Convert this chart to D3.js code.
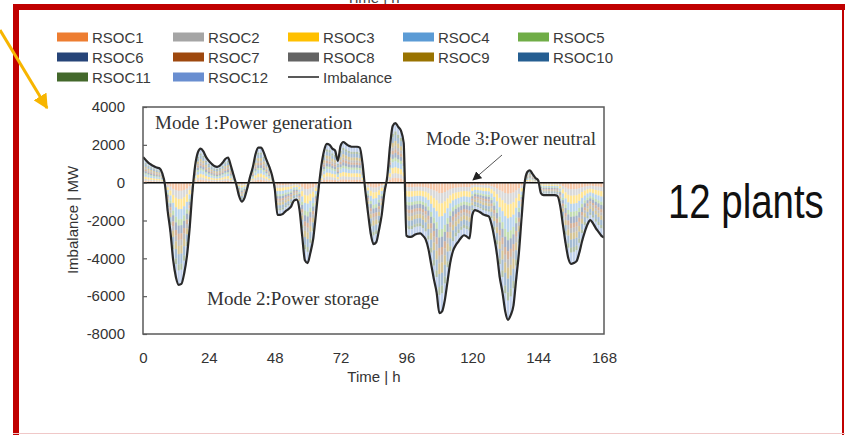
<!DOCTYPE html>
<html>
<head>
<meta charset="utf-8">
<script src="https://cdn.jsdelivr.net/npm/d3@7"></script>
<style>
  html, body { margin: 0; padding: 0; background: #fff; }
  svg { display: block; }
</style>
</head>
<body>
<svg id="chart" width="845" height="435"></svg>
<script>
// ---------------- DATA ----------------
const hours = d3.range(0, 169); // hour index 0..168
// Imbalance (MW), read hour by hour from the picture
const imbalance = [
  1350, 1200, 1050, 950, 870, 800, 760, 500, -100, -1500,
  -2600, -4100, -5000, -5400, -5350, -4800, -3900, -2400, -500, 900,
  1600, 1800, 1650, 1350, 1150, 1000, 880, 840, 900, 1050,
  1250, 1330, 900, 400, -100, -700, -1000, -800, -300, 300,
  800, 1500, 1850, 1850, 1600, 1200, 850, 400, -300, -1700,
  -1700, -1650, -1500, -1400, -1250, -950, -900, -1400, -2800, -4100,
  -4250, -3700, -3000, -1700, -300, 900, 1700, 2050, 2000, 1800,
  1700, 1150, 1950, 2150, 2050, 1950, 1900, 1900, 1900, 1850,
  1000, -400, -1600, -2700, -3250, -3150, -2500, -1700, -500, 300,
  1900, 3000, 3150, 2950, 2750, 2100, -2800, -2870, -2850, -2750,
  -2700, -2680, -2800, -3000, -3500, -4300, -5100, -5800, -6900, -6800,
  -6200, -5200, -4200, -3600, -3300, -3100, -2900, -2780, -2850, -2950,
  -1700, -1450, -1500, -1580, -1680, -1730, -1780, -2200, -2900, -3800,
  -5000, -5800, -6800, -7250, -7000, -6500, -5100, -3700, -1800, -100,
  550, 650, 450, 250, 130, -550, -660, -660, -660, -660,
  -660, -700, -1200, -2200, -3200, -4000, -4300, -4250, -4150, -3700,
  -3100, -2600, -2200, -1980, -2150, -2400, -2600, -2800, -2900
];
const plants = ["RSOC1","RSOC2","RSOC3","RSOC4","RSOC5","RSOC6",
                "RSOC7","RSOC8","RSOC9","RSOC10","RSOC11","RSOC12"];
const plantColors = ["#ED7D31","#A5A5A5","#FFC000","#5B9BD5","#70AD47","#264478",
                     "#9E480E","#636363","#997300","#255E91","#43682B","#698ED0"];
// approximate share of each plant in the stacked columns (read from colour bands)
const plantShare = [0.08, 0.08, 0.10, 0.10, 0.06, 0.08, 0.06, 0.06, 0.08, 0.10, 0.06, 0.14];
const yTicks = [4000, 2000, 0, -2000, -4000, -6000, -8000];
const xTicks = [0, 24, 48, 72, 96, 120, 144, 168];

// ---------------- LAYOUT ----------------
const svg = d3.select("#chart");
const W = 845, H = 435;
const plot = { left: 143, right: 604, top: 107, bottom: 334 };

const x = d3.scaleLinear().domain([0, 168]).range([plot.left, plot.right]);
const y = d3.scaleLinear().domain([-8000, 4000]).range([plot.bottom, plot.top]);

// background
svg.append("rect").attr("width", W).attr("height", H).attr("fill", "#fff");

// cut-off text above the frame (as in the slide)
svg.append("text").attr("x", 373).attr("y", 3).attr("text-anchor", "middle")
  .attr("font-family", "Liberation Sans, Arial, sans-serif").attr("font-size", 15)
  .attr("fill", "#444").text("Time | h");

// red slide frame
svg.append("rect").attr("x", 13).attr("y", 4).attr("width", 832).attr("height", 6).attr("fill", "#C00000");
svg.append("rect").attr("x", 13).attr("y", 4).attr("width", 6).attr("height", 431).attr("fill", "#C00000");
svg.append("rect").attr("x", 842).attr("y", 4).attr("width", 2).attr("height", 431).attr("fill", "#C00000");
svg.append("rect").attr("x", 13).attr("y", 433).attr("width", 832).attr("height", 1).attr("fill", "#f0c8c8");

// ---------------- STACKED BARS ----------------
const table = hours.map((h, i) => {
  const row = { hour: h };
  plants.forEach((p, k) => { row[p] = imbalance[i] * plantShare[k]; });
  return row;
});
const stack = d3.stack().keys(plants).offset(d3.stackOffsetDiverging);
const layers = stack(table);

svg.append("clipPath").attr("id", "plotclip").append("rect")
  .attr("x", plot.left).attr("y", plot.top)
  .attr("width", plot.right - plot.left).attr("height", plot.bottom - plot.top);

const band = x(1) - x(0);
const barW = band * 0.8;
const gBars = svg.append("g").attr("clip-path", "url(#plotclip)");
layers.forEach((layer, k) => {
  gBars.append("g").attr("fill", plantColors[k]).attr("fill-opacity", 0.42)
    .selectAll("rect").data(layer).join("rect")
    .attr("x", d => x(d.data.hour) - barW / 2)
    .attr("width", barW)
    .attr("y", d => y(Math.max(d[0], d[1])))
    .attr("height", d => Math.abs(y(d[0]) - y(d[1])));
});

// zero line
svg.append("line").attr("x1", plot.left).attr("x2", plot.right)
  .attr("y1", y(0)).attr("y2", y(0)).attr("stroke", "#111").attr("stroke-width", 1.5);

// imbalance line
const line = d3.line().x((d, i) => x(hours[i])).y(d => y(d)).curve(d3.curveMonotoneX);
svg.append("path").datum(imbalance).attr("d", line)
  .attr("fill", "none").attr("stroke", "#2a2a2a").attr("stroke-width", 2.2)
  .attr("clip-path", "url(#plotclip)");

// frame
svg.append("rect").attr("x", plot.left).attr("y", plot.top)
  .attr("width", plot.right - plot.left).attr("height", plot.bottom - plot.top)
  .attr("fill", "none").attr("stroke", "#5a5a5a").attr("stroke-width", 1.5);

// ---------------- AXES ----------------
const fontSans = "Liberation Sans, Arial, sans-serif";
const yAxis = svg.append("g").attr("transform", `translate(${plot.left},0)`)
  .call(d3.axisLeft(y).tickValues(yTicks).tickSize(-4).tickPadding(18).tickFormat(d => String(d)));
yAxis.select(".domain").remove();
yAxis.selectAll("line").attr("stroke", "#5a5a5a").attr("stroke-width", 1.2);
yAxis.selectAll("text").attr("font-family", fontSans).attr("font-size", 15).attr("fill", "#333");

const xAxis = svg.append("g").attr("transform", `translate(0,${plot.bottom})`)
  .call(d3.axisBottom(x).tickValues(xTicks).tickSize(0).tickPadding(18));
xAxis.select(".domain").remove();
xAxis.selectAll("text").attr("font-family", fontSans).attr("font-size", 15).attr("fill", "#333");

svg.append("text").attr("x", 374).attr("y", 382).attr("text-anchor", "middle")
  .attr("font-family", fontSans).attr("font-size", 15).attr("fill", "#333").text("Time | h");
svg.append("text").attr("transform", "translate(78,220) rotate(-90)").attr("text-anchor", "middle")
  .attr("font-family", fontSans).attr("font-size", 15).attr("fill", "#333").text("Imbalance | MW");

// ---------------- ANNOTATIONS ----------------
const fontSerif = "Liberation Serif, Times New Roman, serif";
svg.append("text").attr("x", 155).attr("y", 129).attr("font-family", fontSerif)
  .attr("font-size", 19).attr("fill", "#333").text("Mode 1:Power generation");
svg.append("text").attr("x", 207).attr("y", 305).attr("font-family", fontSerif)
  .attr("font-size", 19).attr("fill", "#333").text("Mode 2:Power storage");
svg.append("text").attr("x", 426).attr("y", 145).attr("font-family", fontSerif)
  .attr("font-size", 19).attr("fill", "#333").text("Mode 3:Power neutral");

svg.append("defs").append("marker").attr("id", "ahead").attr("viewBox", "0 0 10 10")
  .attr("refX", 9).attr("refY", 5).attr("markerWidth", 9).attr("markerHeight", 9)
  .attr("markerUnits", "userSpaceOnUse").attr("orient", "auto")
  .append("path").attr("d", "M0,0 L10,5 L0,10 Z").attr("fill", "#222");
svg.append("line").attr("x1", 502).attr("y1", 155).attr("x2", 473).attr("y2", 180)
  .attr("stroke", "#555").attr("stroke-width", 1).attr("marker-end", "url(#ahead)");

// ---------------- LEGEND ----------------
const legendItems = plants.map((p, k) => ({ name: p, color: plantColors[k], type: "bar" }))
  .concat([{ name: "Imbalance", color: "#222", type: "line" }]);
const colX = [57, 173, 288, 403, 518];
const rowY = [37, 57, 77];
const gLeg = svg.append("g");
legendItems.forEach((it, i) => {
  const cx = colX[i % 5], cy = rowY[Math.floor(i / 5)];
  if (it.type === "bar") {
    gLeg.append("rect").attr("x", cx).attr("y", cy - 4.5).attr("width", 31).attr("height", 9)
      .attr("fill", it.color);
  } else {
    gLeg.append("line").attr("x1", cx).attr("x2", cx + 31).attr("y1", cy).attr("y2", cy)
      .attr("stroke", it.color).attr("stroke-width", 1.5);
  }
  gLeg.append("text").attr("x", cx + 35).attr("y", cy + 5.5)
    .attr("font-family", fontSans).attr("font-size", 15).attr("fill", "#3a3a3a").text(it.name);
});

// ---------------- SLIDE EXTRAS ----------------
svg.append("text").attr("transform", "translate(668,218) scale(0.8,1)")
  .attr("font-family", fontSans).attr("font-size", 48).attr("fill", "#111").text("12 plants");

// orange pointer arrow
svg.append("defs").append("marker").attr("id", "orangehead").attr("viewBox", "0 0 10 10")
  .attr("refX", 9).attr("refY", 5).attr("markerWidth", 15).attr("markerHeight", 15)
  .attr("markerUnits", "userSpaceOnUse").attr("orient", "auto")
  .append("path").attr("d", "M0,0 L10,5 L0,10 Z").attr("fill", "#F7B500");
svg.append("line").attr("x1", 0).attr("y1", 30).attr("x2", 47).attr("y2", 108)
  .attr("stroke", "#F7B500").attr("stroke-width", 3).attr("marker-end", "url(#orangehead)");
</script>
</body>
</html>
